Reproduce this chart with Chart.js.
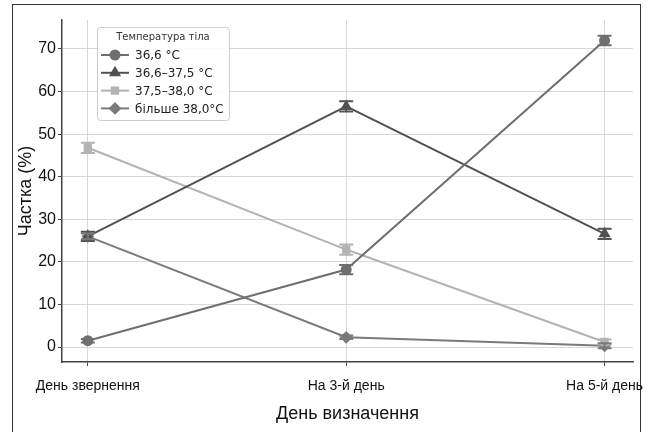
<!DOCTYPE html>
<html>
<head>
<meta charset="utf-8">
<script src="https://cdn.jsdelivr.net/npm/chart.js@4"></script>
<style>
  html, body { margin: 0; padding: 0; background: #fff; }
  #wrap { position: relative; width: 648px; height: 432px; overflow: hidden; }
  #frame { position: absolute; left: 12px; top: 4px; width: 627px; height: 460px; border: 1.5px solid #333; }
  canvas { position: absolute; left: 0; top: 0; }
</style>
</head>
<body>
<div id="wrap">
  <div id="frame"></div>
  <canvas id="chart" width="648" height="432"></canvas>
</div>
<script>
// Дані графіка
const categories = ['День звернення', 'На 3-й день', 'На 5-й день'];
const seriesNames = ['36,6 °C', '36,6–37,5 °C', '37,5–38,0 °C', 'більше 38,0°C'];
const normal = [1.5, 18.2, 72.0];
const subfebrile = [26.0, 56.5, 26.6];
const febrile = [46.8, 22.9, 1.2];
const high = [26.0, 2.3, 0.3];
const normalErr = [0.4, 1.1, 1.1];
const subfebrileErr = [1.1, 1.2, 1.2];
const febrileErr = [1.2, 1.2, 0.6];
const highErr = [0.7, 0.4, 0.6];
const yTicks = [0, 10, 20, 30, 40, 50, 60, 70];

const narrow = "'Liberation Sans Narrow', 'Arial Narrow', 'Liberation Sans', sans-serif";

const styles = [
    { color: '#6f6f6f', point: 'circle', radius: 4.5 },
    { color: '#525252', point: 'triangle', radius: 5 },
    { color: '#b3b3b3', point: 'rect', radius: 4.5 },
    { color: '#7a7a7a', point: 'rectRot', radius: 5 }
];
const values = [normal, subfebrile, febrile, high];
const errors = [normalErr, subfebrileErr, febrileErr, highErr];

const datasets = values.map((vals, i) => ({
    label: seriesNames[i],
    data: vals.map((v, j) => ({ x: j, y: v })),
    errors: errors[i],
    borderColor: styles[i].color,
    backgroundColor: styles[i].color,
    pointBackgroundColor: styles[i].color,
    pointBorderColor: styles[i].color,
    pointStyle: styles[i].point,
    pointRadius: styles[i].radius,
    borderWidth: 2,
    tension: 0
}));

// Планки похибок
const errorBars = {
    id: 'errorBars',
    afterDatasetsDraw(chart) {
        const ctx = chart.ctx;
        const xs = chart.scales.x, ys = chart.scales.y;
        chart.data.datasets.forEach(ds => {
            ctx.save();
            ctx.strokeStyle = ds.borderColor;
            ctx.lineWidth = 2;
            ds.data.forEach((p, j) => {
                const e = ds.errors[j];
                const x = xs.getPixelForValue(p.x);
                const y1 = ys.getPixelForValue(p.y - e);
                const y2 = ys.getPixelForValue(p.y + e);
                ctx.beginPath();
                ctx.moveTo(x, y1); ctx.lineTo(x, y2);
                ctx.moveTo(x - 7, y1); ctx.lineTo(x + 7, y1);
                ctx.moveTo(x - 7, y2); ctx.lineTo(x + 7, y2);
                ctx.stroke();
            });
            ctx.restore();
        });
    }
};

// Легенда всередині області графіка
const boxLegend = {
    id: 'boxLegend',
    afterDraw(chart) {
        const ctx = chart.ctx;
        const left = 97, top = 27, w = 132, h = 93;
        ctx.save();
        ctx.fillStyle = 'rgba(255,255,255,0.9)';
        ctx.strokeStyle = '#cccccc';
        ctx.lineWidth = 1;
        ctx.beginPath();
        ctx.roundRect(left + 0.5, top + 0.5, w, h, 3);
        ctx.fill();
        ctx.stroke();

        ctx.fillStyle = '#333';
        ctx.font = "10px 'DejaVu Sans', sans-serif";
        ctx.textAlign = 'center';
        ctx.textBaseline = 'middle';
        ctx.fillText('Температура тіла', left + w / 2, 37);

        chart.data.datasets.forEach((ds, i) => {
            const y = 55 + i * 17.8;
            ctx.strokeStyle = ds.borderColor;
            ctx.lineWidth = 2;
            ctx.beginPath();
            ctx.moveTo(101, y); ctx.lineTo(129, y);
            ctx.stroke();
            Chart.helpers.drawPoint(ctx, {
                pointStyle: ds.pointStyle,
                radius: ds.pointRadius,
                borderWidth: 1,
                rotation: 0
            }, 115, y);
            ctx.fillStyle = ds.borderColor;
            ctx.fill();
            ctx.fillStyle = '#222';
            ctx.font = "12px 'DejaVu Sans', sans-serif";
            ctx.textAlign = 'left';
            ctx.fillText(ds.label, 135, y + 1);
        });
        ctx.restore();
    }
};

const gridStyle = {
    color: '#cfcfcf',
    lineWidth: 0.8,
    borderDash: [2, 2],
    tickColor: '#444',
    tickLength: 4,
    tickBorderDash: [],
    tickWidth: 1
};

new Chart(document.getElementById('chart'), {
    type: 'line',
    data: { datasets },
    plugins: [errorBars, boxLegend],
    options: {
        responsive: false,
        animation: false,
        layout: { padding: { left: 13, top: 20, right: 15, bottom: 2 } },
        plugins: { legend: { display: false }, tooltip: { enabled: false } },
        scales: {
            x: {
                type: 'linear',
                min: -0.1,
                max: 2.11,
                afterBuildTicks: s => { s.ticks = categories.map((c, i) => ({ value: i })); },
                afterFit: s => { s.height = 68; s.paddingLeft = 0; s.paddingRight = 0; },
                grid: gridStyle,
                border: { display: true, color: '#444', width: 1.5 },
                ticks: {
                    color: '#111',
                    font: { family: narrow, size: 14 },
                    padding: 12,
                    maxRotation: 0,
                    callback: v => categories[v]
                },
                title: {
                    display: true,
                    text: 'День визначення',
                    color: '#111',
                    font: { family: narrow, size: 18 },
                    padding: { top: 0, bottom: 5 }
                }
            },
            y: {
                min: -3.5,
                max: 76.8,
                afterBuildTicks: s => { s.ticks = yTicks.map(v => ({ value: v })); },
                afterFit: s => { s.width = 49; },
                grid: gridStyle,
                border: { display: true, color: '#444', width: 1.5 },
                ticks: {
                    color: '#111',
                    font: { family: narrow, size: 16 },
                    padding: 2
                },
                title: {
                    display: true,
                    text: 'Частка (%)',
                    color: '#111',
                    font: { family: narrow, size: 18 },
                    padding: { top: 2, bottom: 0 }
                }
            }
        }
    }
});
</script>
</body>
</html>
